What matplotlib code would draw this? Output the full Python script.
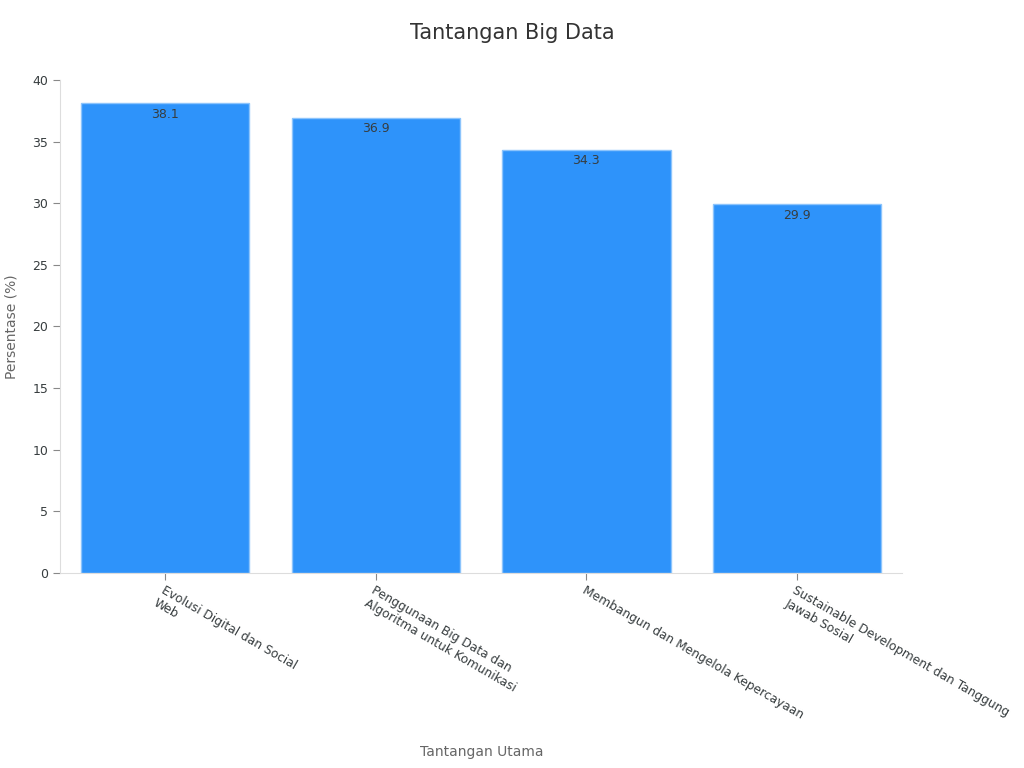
import matplotlib.pyplot as plt

categories = ['Evolusi Digital dan Social\nWeb',
              'Penggunaan Big Data dan\nAlgoritma untuk Komunikasi',
              'Membangun dan Mengelola Kepercayaan',
              'Sustainable Development dan Tanggung\nJawab Sosial']
values = [38.1, 36.9, 34.3, 29.9]
y_ticks = [0, 5, 10, 15, 20, 25, 30, 35, 40]

fig = plt.figure(figsize=(10.24, 7.68), dpi=100)
ax = fig.add_axes([0.0586, 0.254, 0.8224, 0.642])

x = list(range(len(categories)))
bars = ax.bar(x, values, width=0.8, color='#2E93FA', edgecolor='#8CC4FC', linewidth=1)

# value labels inside the top of each bar
for xi, v in zip(x, values):
    ax.text(xi, v - 0.35, f'{v}', ha='center', va='top', fontsize=9, color='#373d3f')

ax.set_xlim(-0.5, 3.5)
ax.set_ylim(0, 40)
ax.set_yticks(y_ticks)
ax.set_yticklabels([str(t) for t in y_ticks], fontsize=9, color='#373d3f')
ax.set_xticks(x)
ax.set_xticklabels(categories, rotation=-30, ha='left', va='top',
                   rotation_mode='anchor', fontsize=8.8, color='#373d3f')
ax.tick_params(axis='x', length=5, color='#888888', pad=2.5)
ax.tick_params(axis='y', length=5, color='#888888')

for side in ['top', 'right']:
    ax.spines[side].set_visible(False)
ax.spines['left'].set_color('#dddddd')
ax.spines['bottom'].set_color('#dddddd')

ax.set_ylabel('Persentase (%)', fontsize=10, color='#666666', labelpad=10)
fig.text(0.47, 0.016, 'Tantangan Utama', ha='center', fontsize=10, color='#666666')
fig.text(0.5, 0.957, 'Tantangan Big Data', ha='center', va='center', fontsize=15, color='#333333')

fig.savefig('out.png', dpi=100)
